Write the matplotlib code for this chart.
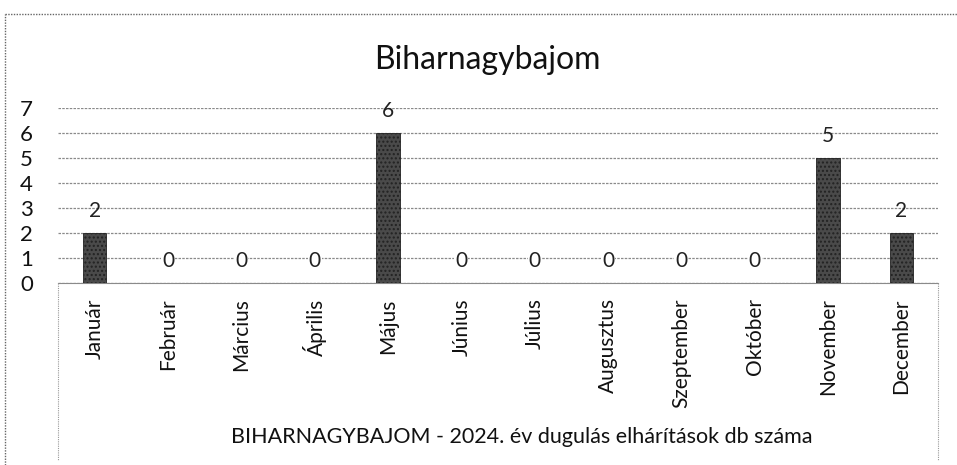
import matplotlib.pyplot as plt
from matplotlib.lines import Line2D

months = ['Január', 'Február', 'Március', 'Április', 'Május', 'Június',
          'Július', 'Augusztus', 'Szeptember', 'Október', 'November', 'December']
counts = [2, 0, 0, 0, 6, 0, 0, 0, 0, 0, 5, 2]
y_ticks = [0, 1, 2, 3, 4, 5, 6, 7]

plt.rcParams['font.family'] = ['Lato', 'DejaVu Sans']

fig = plt.figure(figsize=(9.57, 4.65), dpi=100)
ax = fig.add_axes([58 / 957, (465 - 283) / 465, 880 / 957, 175 / 465])

x = range(len(months))
ax.bar(x, counts, width=0.32, color='#4a4a4a', edgecolor='#222222',
       hatch='....', linewidth=0.6, zorder=3)

for xi, v in zip(x, counts):
    ax.annotate(str(v), (xi, v), xytext=(0, 16), textcoords='offset points',
                ha='center', va='center', fontsize=15, color='#222222', zorder=4,
                bbox=dict(boxstyle='square,pad=0.05', fc='white', ec='none') if v == 0 else None)

ax.set_xlim(-0.5, len(months) - 0.5)
ax.set_ylim(0, 7)
ax.set_yticks(y_ticks)
ax.set_yticklabels([str(t) for t in y_ticks], fontsize=16, color='#111111')
ax.set_xticks(list(x))
ax.set_xticklabels(months, rotation=90, fontsize=15, color='#111111', va='top', ha='center')
ax.tick_params(axis='y', length=0, pad=18)
ax.tick_params(axis='x', length=0, pad=11)
ax.yaxis.grid(True, color='#8a8a8a', linestyle=(0, (2, 1)), linewidth=0.9, zorder=0)
ax.set_axisbelow(True)
for side in ['top', 'right', 'left']:
    ax.spines[side].set_visible(False)
ax.spines['bottom'].set_color('#8a8a8a')
ax.spines['bottom'].set_linestyle((0, (2, 1)))

fig.text(522 / 957, 1 - 437 / 465,
         'BIHARNAGYBAJOM - 2024. év dugulás elhárítások db száma',
         ha='center', va='center', fontsize=15.5, color='#111111')

fig.text(487 / 957, 1 - 60 / 465, 'Biharnagybajom', ha='center', va='center',
         fontsize=23, color='#111111')

# plot-area frame below the axis and outer chart border
for xp in [58, 938]:
    fig.add_artist(Line2D([xp / 957, xp / 957], [(465 - 283) / 465, 5 / 465],
                          color='#999999', lw=0.8, linestyle=(0, (1, 1))))
fig.add_artist(Line2D([5 / 957, 5 / 957], [0, 1 - 14 / 465],
                      color='#666666', lw=1.0, linestyle=(0, (1, 1))))
fig.add_artist(Line2D([5 / 957, 1], [1 - 14 / 465, 1 - 14 / 465],
                      color='#666666', lw=1.0, linestyle=(0, (1, 1))))

fig.savefig('out.png', dpi=100)
